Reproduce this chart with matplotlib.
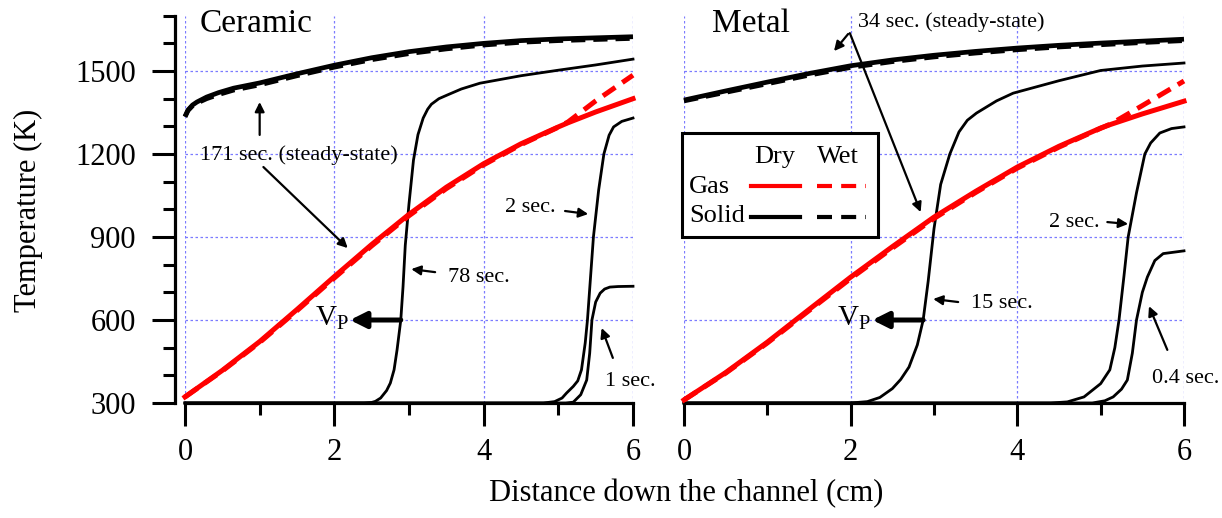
import matplotlib
matplotlib.use('Agg')
import matplotlib.pyplot as plt
from matplotlib.patches import Rectangle
from matplotlib.lines import Line2D

plt.rcParams['font.family'] = ['Liberation Serif', 'DejaVu Serif']
plt.rcParams['mathtext.fontset'] = 'custom'
plt.rcParams['mathtext.rm'] = 'Liberation Serif'
plt.rcParams['mathtext.it'] = 'Liberation Serif'

# ceramic, steady state (171 sec.)
x_ss_c = [0, 0.04, 0.1, 0.16, 0.29, 0.45, 0.65, 1.0, 1.5, 2.0, 2.5, 3.0, 3.5, 4.0, 4.5, 5.0, 5.5, 6.0]
solid_dry_c = [1335, 1359, 1377, 1388, 1406, 1422, 1438, 1457, 1490, 1521, 1548, 1570, 1587, 1600, 1610, 1616, 1620, 1624]
solid_wet_c = [1335, 1357, 1374, 1384, 1400, 1415, 1431, 1450, 1483, 1514, 1541, 1563, 1580, 1594, 1604, 1610, 1614, 1618]
x_gas = [0, 0.5, 1.0, 1.5, 2.0, 2.5, 3.0, 3.5, 4.0, 4.5, 5.0, 5.13, 5.5, 6.0]
gas_dry_c = [322, 418, 522, 638, 757, 873, 982, 1080, 1165, 1237, 1298, 1313, 1352, 1400]
gas_wet_c = [322, 416, 519, 634, 752, 868, 977, 1075, 1161, 1234, 1297, 1316, 1392, 1485]

# ceramic transients
x_78 = [0, 2.4, 2.5, 2.55, 2.62, 2.7, 2.75, 2.8, 2.84, 2.89, 2.92, 2.95, 3.0, 3.06, 3.12, 3.19, 3.25, 3.3, 3.4, 3.51, 3.7, 3.95, 4.5, 5.0, 5.5, 6.0]
t_78 = [300, 300, 302, 306, 318, 345, 372, 420, 492, 600, 720, 870, 1020, 1178, 1270, 1330, 1362, 1380, 1400, 1413, 1435, 1456, 1483, 1503, 1522, 1543]
x_2c = [0, 4.8, 4.95, 5.05, 5.11, 5.2, 5.26, 5.31, 5.36, 5.39, 5.43, 5.47, 5.54, 5.61, 5.68, 5.74, 5.85, 6.0]
t_2c = [300, 300, 305, 318, 336, 360, 380, 420, 517, 600, 750, 900, 1070, 1200, 1268, 1298, 1318, 1330]
x_1c = [0, 5.1, 5.2, 5.3, 5.38, 5.42, 5.45, 5.5, 5.56, 5.62, 5.69, 5.8, 6.0]
t_1c = [300, 300, 303, 330, 383, 480, 600, 665, 697, 712, 719, 721, 722]

# metal, steady state (34 sec.)
x_ss_m = [0, 0.5, 1.0, 1.5, 2.0, 2.5, 3.0, 3.5, 4.0, 4.5, 5.0, 5.5, 6.0]
solid_dry_m = [1395, 1428, 1460, 1491, 1519, 1540, 1557, 1571, 1583, 1593, 1601, 1608, 1615]
solid_wet_m = [1392, 1423, 1454, 1485, 1513, 1534, 1551, 1565, 1577, 1587, 1595, 1603, 1610]
gas_dry_m = [311, 410, 520, 638, 755, 865, 972, 1065, 1153, 1228, 1294, 1308, 1345, 1391]
gas_wet_m = [311, 408, 517, 634, 750, 860, 967, 1061, 1149, 1225, 1293, 1310, 1375, 1464]

# metal transients
x_15 = [0, 2.0, 2.2, 2.35, 2.5, 2.6, 2.7, 2.8, 2.87, 2.93, 3.0, 3.08, 3.19, 3.3, 3.4, 3.51, 3.75, 3.95, 4.5, 5.0, 5.5, 6.0]
t_15 = [300, 300, 305, 320, 352, 385, 430, 510, 600, 740, 930, 1090, 1200, 1280, 1322, 1348, 1392, 1420, 1465, 1502, 1518, 1529]
x_2m = [0, 4.4, 4.6, 4.8, 5.0, 5.11, 5.17, 5.22, 5.28, 5.33, 5.43, 5.53, 5.6, 5.71, 5.85, 6.0]
t_2m = [300, 300, 304, 322, 370, 420, 500, 600, 760, 900, 1060, 1200, 1240, 1276, 1292, 1298]
x_04 = [0, 4.9, 5.05, 5.15, 5.25, 5.32, 5.38, 5.43, 5.5, 5.56, 5.65, 5.75, 6.0]
t_04 = [300, 300, 308, 322, 350, 383, 480, 600, 700, 755, 815, 840, 850]

W, H = 1222, 518
fig = plt.figure(figsize=(W / 100, H / 100), dpi=100)


def fx(px):
    return px / W


def fy(py):
    return 1 - py / H


bottom = fy(403)
height = fy(15.7) - bottom
ax1 = fig.add_axes([fx(185), bottom, fx(448), height])
ax2 = fig.add_axes([fx(684), bottom, fx(500), height])

grid_col = '#7b7bff'
for ax in (ax1, ax2):
    ax.set_xlim(0, 6)
    ax.set_ylim(300, 1700)
    ax.set_xticks([0, 2, 4, 6])
    ax.set_xticks([1, 3, 5], minor=True)
    ax.spines['top'].set_visible(False)
    ax.spines['right'].set_visible(False)
    ax.spines['bottom'].set_linewidth(2.3)
    ax.tick_params(axis='x', which='major', length=16.5, width=2.2, pad=9, labelsize=22)
    ax.tick_params(axis='x', which='minor', length=8.6, width=2.2)
    for xv in [0, 2, 4, 6]:
        ax.axvline(xv, color=grid_col, lw=0.9, ls=(0, (2, 2)), zorder=0)
    for yv in [600, 900, 1200, 1500]:
        ax.axhline(yv, color=grid_col, lw=0.9, ls=(0, (2, 2)), zorder=0)
    ax.patch.set_visible(False)

ax1.spines['left'].set_position(('outward', 7))
ax1.spines['left'].set_linewidth(2.3)
ax1.set_yticks([300, 600, 900, 1200, 1500])
ax1.set_yticks(range(400, 1701, 100), minor=True)
ax1.tick_params(axis='y', which='major', length=16.5, width=2.2, pad=12, labelsize=22)
ax1.tick_params(axis='y', which='minor', length=8.6, width=2.2)
ax2.spines['left'].set_visible(False)
ax2.set_yticks([])

red = '#ff0000'
wet_dash = (3, 1.7)


def draw_panel(ax, xs, sd, sw, gd, gw, transients):
    ax.plot(xs, sd, color='k', lw=3.4, solid_capstyle='butt', zorder=3, clip_on=False)
    ax.plot(xs, sw, color='k', lw=3.4, dashes=wet_dash, zorder=3, clip_on=False)
    ax.plot(x_gas, gd, color=red, lw=3.6, zorder=4, clip_on=False)
    ax.plot(x_gas, gw, color=red, lw=3.6, dashes=wet_dash, zorder=4, clip_on=False)
    for tx, ty in transients:
        ax.plot(tx, ty, color='k', lw=2.0, zorder=3, clip_on=False)


draw_panel(ax1, x_ss_c, solid_dry_c, solid_wet_c, gas_dry_c, gas_wet_c,
           [(x_78, t_78), (x_2c, t_2c), (x_1c, t_1c)])
draw_panel(ax2, x_ss_m, solid_dry_m, solid_wet_m, gas_dry_m, gas_wet_m,
           [(x_15, t_15), (x_2m, t_2m), (x_04, t_04)])

thin = dict(arrowstyle='-|>', color='k', lw=1.6, mutation_scale=14, shrinkA=0, shrinkB=0)
thick = dict(arrowstyle='-|>', color='k', lw=3.6, mutation_scale=24, shrinkA=0, shrinkB=0)
fs_note = 16

# ceramic annotations
ax1.text(0.2, 1641, 'Ceramic', fontsize=24, va='baseline')
ax1.annotate('', xy=(1.0, 1388), xytext=(1.0, 1269), arrowprops=thin)
ax1.text(0.2, 1196, '171 sec. (steady-state)', fontsize=fs_note, va='center')
ax1.annotate('', xy=(2.18, 860), xytext=(1.05, 1153), arrowprops=thin)
ax1.annotate('', xy=(2.21, 600), xytext=(2.89, 600), arrowprops=thick)
ax1.text(2.19, 605, r'V$_{\rm P}$', fontsize=21, ha='right', va='center')
ax1.annotate('', xy=(3.03, 784), xytext=(3.35, 773), arrowprops=thin)
ax1.text(3.52, 755, '78 sec.', fontsize=fs_note, va='center')
ax1.annotate('', xy=(5.40, 983), xytext=(5.09, 994), arrowprops=thin)
ax1.text(4.96, 1008, '2 sec.', fontsize=fs_note, ha='right', va='center')
ax1.annotate('', xy=(5.58, 571), xytext=(5.73, 463), arrowprops=thin)
ax1.text(5.62, 376, '1 sec.', fontsize=fs_note, va='center')

# metal annotations
ax2.text(0.34, 1641, 'Metal', fontsize=24, va='baseline')
ax2.text(2.09, 1677, '34 sec. (steady-state)', fontsize=fs_note, va='center')
ax2.annotate('', xy=(1.80, 1572), xytext=(1.97, 1634), arrowprops=thin)
ax2.annotate('', xy=(2.84, 990), xytext=(1.99, 1637), arrowprops=thin)
ax2.annotate('', xy=(2.26, 600), xytext=(2.87, 600), arrowprops=thick)
ax2.text(2.24, 605, r'V$_{\rm P}$', fontsize=21, ha='right', va='center')
ax2.annotate('', xy=(2.99, 676), xytext=(3.29, 665), arrowprops=thin)
ax2.text(3.44, 661, '15 sec.', fontsize=fs_note, va='center')
ax2.annotate('', xy=(5.33, 947), xytext=(5.08, 954), arrowprops=thin)
ax2.text(4.99, 954, '2 sec.', fontsize=fs_note, ha='right', va='center')
ax2.annotate('', xy=(5.58, 650), xytext=(5.80, 492), arrowprops=thin)
ax2.text(5.62, 390, '0.4 sec.', fontsize=fs_note, va='center')

# legend drawn by hand
fig.patches.append(Rectangle((fx(682), fy(237)), fx(196), fy(133) - fy(237),
                             transform=fig.transFigure, fill=True, facecolor='white',
                             edgecolor='k', lw=2.2, zorder=10))
fig.text(fx(775), fy(157), 'Dry', fontsize=19, ha='center', va='center', zorder=11)
fig.text(fx(838), fy(157), 'Wet', fontsize=19, ha='center', va='center', zorder=11)
fig.text(fx(689), fy(187), 'Gas', fontsize=19, ha='left', va='center', zorder=11)
fig.text(fx(689), fy(216), 'Solid', fontsize=19, ha='left', va='center', zorder=11)
for yy, col in ((186, red), (217, 'k')):
    fig.lines.append(Line2D([fx(751), fx(800)], [fy(yy), fy(yy)], color=col, lw=3,
                            transform=fig.transFigure, zorder=11))
    fig.lines.append(Line2D([fx(817), fx(866)], [fy(yy), fy(yy)], color=col, lw=3,
                            dashes=(3.6, 2.2), transform=fig.transFigure, zorder=11))

fig.text(fx(28), fy(210), 'Temperature (K)', fontsize=22, rotation=90, ha='center', va='center')
fig.text(fx(686), fy(494), 'Distance down the channel (cm)', fontsize=22, ha='center', va='center')

fig.savefig('out.png', dpi=100)
